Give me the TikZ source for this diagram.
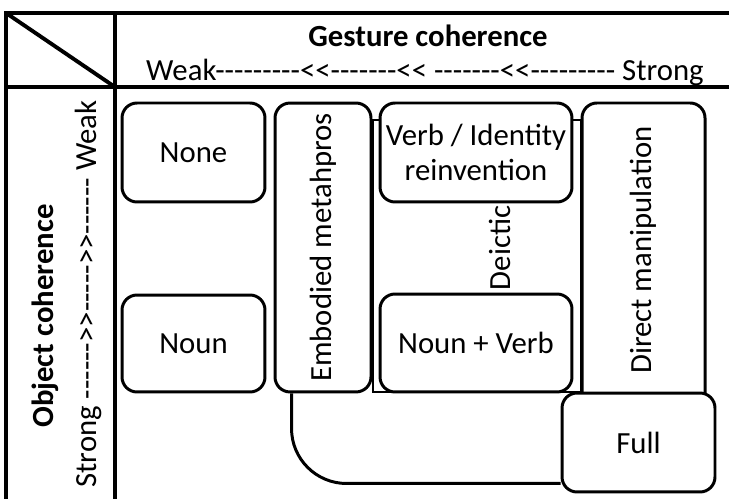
\documentclass[tikz,border=0pt]{standalone}
\usepackage{fontspec}
\setmainfont{Carlito}[Ligatures=TeXOff]
\usetikzlibrary{calc}

\begin{document}
\begin{tikzpicture}[x=0.02cm, y=-0.02cm,
    font=\fontsize{17.5}{19.5}\selectfont,
    frameline/.style={line width=2.2pt},
    boxline/.style={line width=1.7pt},
    catbox/.style={boxline, draw, fill=white, rounded corners=0.3cm, align=center, inner sep=0pt}]
    % Fix the page to the size of the reference
    \useasboundingbox (0,0) rectangle (729,499);

    % Draw the table frame with the corner diagonal
    \draw[frameline] (729,13) -- (6,13) -- (6,499);
    \draw[frameline] (6,87) -- (729,87);
    \draw[frameline] (115,13) -- (115,499);
    \draw[frameline] (6,13) -- (115,87);

    % Add the axis titles
    \node[font=\fontsize{17.5}{19.5}\selectfont\bfseries] (gtitle) at (428,36) {Gesture coherence};
    \node (gscale) at (425,72) {Weak---------<<-------<< -------<<--------- Strong};
    \node[rotate=90, font=\fontsize{17.5}{19.5}\selectfont\bfseries] (otitle) at (45,316) {Object coherence};
    \node[rotate=90] (oscale) at (88,294) {Strong ------>>----->>------ Weak};

    % Draw the deictic column behind the two middle boxes
    \draw[line width=1.2pt] (373,120) rectangle (581,392);
    \node[rotate=90] (deictic) at (500,248) {Deictic};

    % Draw the category boxes
    \node[catbox, minimum width=2.86cm, minimum height=1.98cm] (none) at (193.5,152.5) {None};
    \node[catbox, minimum width=2.86cm, minimum height=1.94cm] (noun) at (193.5,343.5) {Noun};
    \node[catbox, minimum width=1.92cm, minimum height=5.78cm] (embodied) at (323,247.5) {\rotatebox{90}{Embodied metahpros}};
    \node[catbox, minimum width=3.84cm, minimum height=1.98cm] (verb) at (476,152.5) {Verb / Identity\\reinvention};
    \node[catbox, minimum width=3.84cm, minimum height=1.96cm] (nounverb) at (476,343) {Noun + Verb};

    % Direct manipulation box is open at the bottom
    \draw[boxline, rounded corners=0.3cm] (582,393) |- (643.5,103) -| (705,393);
    \node[rotate=90] (direct) at (643.5,250) {Direct manipulation};

    % Draw the full box and the curved link from the embodied box
    \node[catbox, minimum width=3.06cm, minimum height=1.98cm] (full) at (638.5,442.5) {Full};
    \draw[boxline, rounded corners=1.1cm] ($(embodied.south west)+(18,0)$) |- ($(full.south west)+(0,-10)$);
\end{tikzpicture}
\end{document}
